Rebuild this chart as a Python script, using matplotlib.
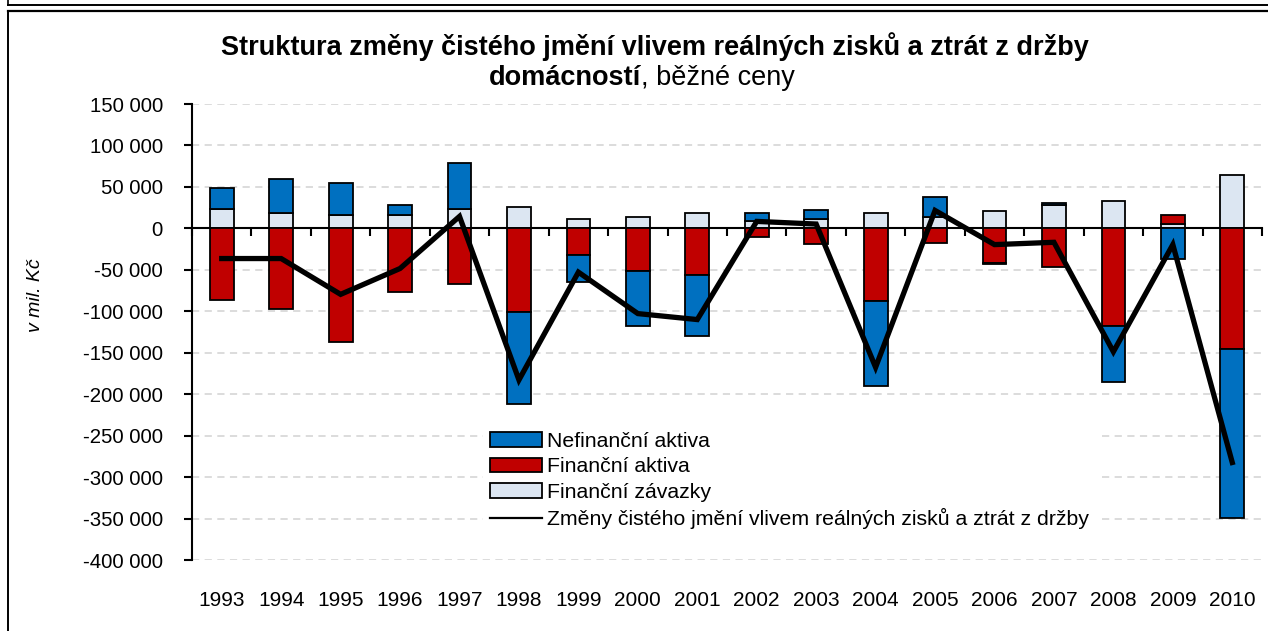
import numpy as np
import matplotlib.pyplot as plt
from matplotlib.patches import Patch
from matplotlib.lines import Line2D
from matplotlib.ticker import FuncFormatter, FixedLocator

plt.rcParams['font.family'] = ['Liberation Sans', 'DejaVu Sans']

years = [str(y) for y in range(1993, 2011)]

# v mil. Kč
zavazky = [23000, 18000, 16000, 16000, 23200, 25600, 11200, 13600, 18400,
           9000, 11000, 18400, 13200, 21200, 27600, 33200, 5500, 64000]
fin_aktiva = [-87000, -97000, -137500, -77000, -67500, -100800, -32000, -51000, -56000,
              -10200, -19000, -87200, -17600, -42000, -46400, -118000, 10500, -146000]
nefin_aktiva = [26000, 41200, 39200, 12000, 55600, -110800, -33200, -67200, -74400,
                9900, 10800, -102800, 24400, -1500, 2800, -67600, -36400, -203500]
zmena_jmeni = [-36400, -36400, -79600, -48400, 14400, -182800, -52800, -102800, -110000,
               8400, 5200, -167600, 21600, -19600, -16800, -148800, -19600, -282400]

c_nefin = "#0070C0"
c_fin = "#C00000"
c_zav = "#DCE6F2"

W, H = 1268, 631
fig = plt.figure(figsize=(W / 100, H / 100), dpi=100)
ax = fig.add_axes([192 / W, 1 - 560 / H, 1070 / W, 456 / H])

x = np.arange(len(years))
pos = np.zeros(len(years))
neg = np.zeros(len(years))

# kladné a záporné hodnoty se skládají zvlášť
for vals, col in [(zavazky, c_zav), (fin_aktiva, c_fin), (nefin_aktiva, c_nefin)]:
    v = np.array(vals, dtype=float)
    bottom = np.where(v >= 0, pos, neg)
    ax.bar(x, v, bottom=bottom, width=0.4, color=col, edgecolor="black",
           linewidth=1.3, zorder=3)
    pos = pos + np.where(v >= 0, v, 0)
    neg = neg + np.where(v < 0, v, 0)

ax.plot(x, zmena_jmeni, color="black", lw=3.8, zorder=4, solid_joinstyle="miter")

ax.set_xlim(-0.5, len(years) - 0.5)
ax.set_ylim(-400000, 150000)
ax.set_yticks(np.arange(-400000, 150001, 50000))
ax.yaxis.set_major_formatter(FuncFormatter(lambda v, p: f"{v:,.0f}".replace(",", " ")))
ax.tick_params(axis="y", direction="out", length=6, width=1.5, labelsize=14.7, pad=15)
ax.yaxis.grid(True, color="#d9d9d9", lw=1.3, linestyle=(0, (4, 3)), zorder=0)

# osa x vede nulou, značky na hranicích kategorií
ax.spines["bottom"].set_position(("data", 0))
ax.spines["bottom"].set_linewidth(1.5)
ax.spines["left"].set_linewidth(1.5)
ax.spines["top"].set_visible(False)
ax.spines["right"].set_visible(False)
ax.xaxis.set_major_locator(FixedLocator(np.arange(-0.5, len(years), 1.0)))
ax.tick_params(axis="x", direction="out", length=6, width=1.5, labelbottom=False)
for i, yr in enumerate(years):
    ax.text(i, -0.088, yr, transform=ax.get_xaxis_transform(), ha="center",
            va="center", fontsize=15)

ax.set_axisbelow(True)

fig.text(35 / W, 1 - 295 / H, "v mil. Kč", rotation=90, style="italic",
         fontsize=14, ha="center", va="center")

fig.text(655 / W, 1 - 47 / H,
         "Struktura změny čistého jmění vlivem reálných zisků a ztrát z držby",
         fontsize=19.5, fontweight="bold", ha="center", va="center")
fig.text(641 / W, 1 - 78 / H, "domácností", fontsize=19.5, fontweight="bold",
         ha="right", va="center")
fig.text(641 / W, 1 - 78 / H, ", běžné ceny", fontsize=19.5, ha="left", va="center")

handles = [Patch(facecolor=c_nefin, edgecolor="black", lw=1.3),
           Patch(facecolor=c_fin, edgecolor="black", lw=1.3),
           Patch(facecolor=c_zav, edgecolor="black", lw=1.3),
           Line2D([], [], color="black", lw=1.6)]
labels = ["Nefinanční aktiva", "Finanční aktiva", "Finanční závazky",
          "Změny čistého jmění vlivem reálných zisků a ztrát z držby"]
leg = fig.legend(handles, labels, loc="upper left",
                 bbox_to_anchor=(472 / W, 1 - 414 / H), fontsize=15.3, frameon=True,
                 handlelength=2.45, handleheight=0.68, handletextpad=0.25,
                 labelspacing=0.3, borderpad=0.35)
leg.get_frame().set_facecolor("white")
leg.get_frame().set_edgecolor("none")
leg.get_frame().set_alpha(1)

# rámeček grafu
def fline(xs, ys, lw, color="black"):
    fig.add_artist(Line2D([v / W for v in xs], [1 - v / H for v in ys],
                          color=color, lw=lw, transform=fig.transFigure))

fline([8, W], [4.5, 4.5], 1.4)
fline([8, 8], [0, 4.5], 1.2)
fline([8, W], [10.5, 10.5], 1.6)
fline([8, 8], [10.5, H], 1.4)

fig.savefig("out.png", dpi=100)
